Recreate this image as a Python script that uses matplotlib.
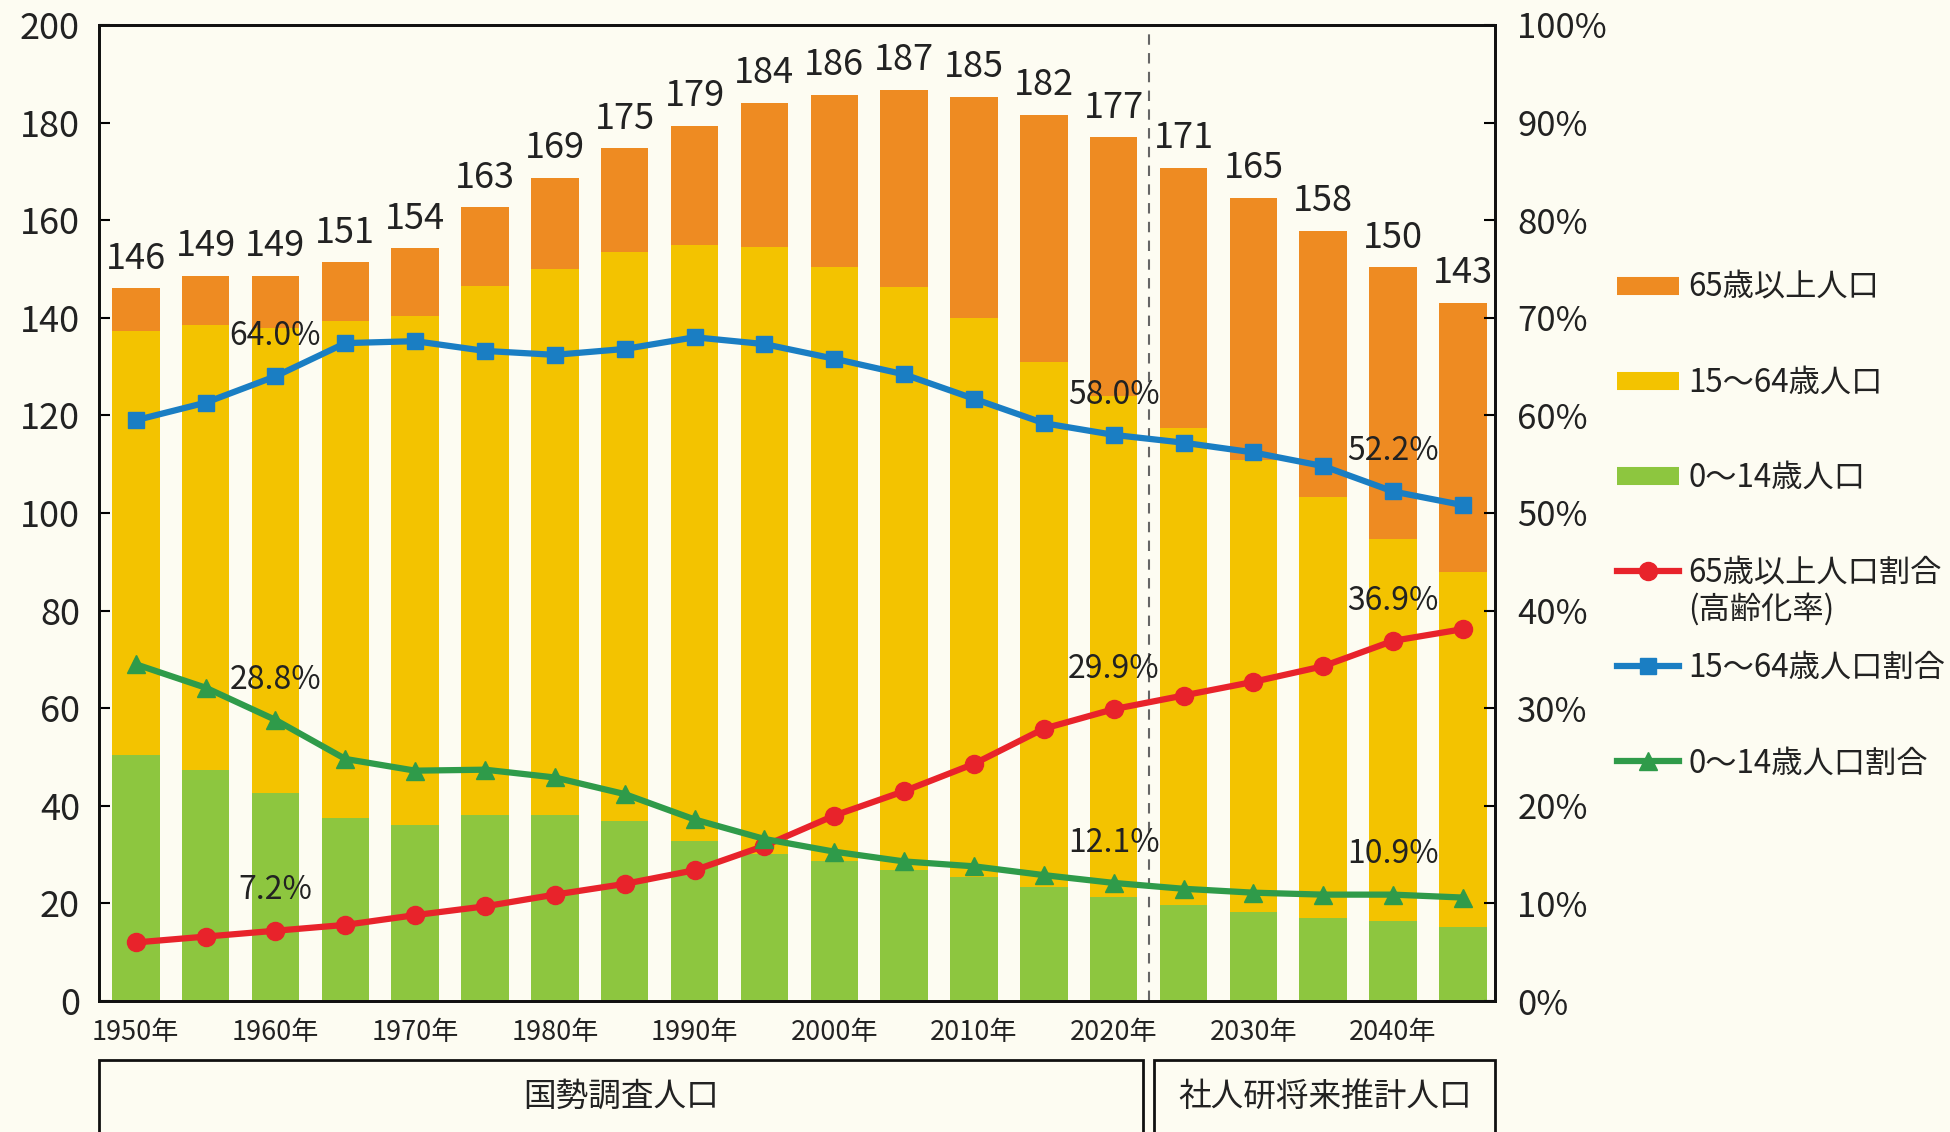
import numpy as np
import matplotlib.pyplot as plt
import matplotlib.transforms as mtransforms
from matplotlib.lines import Line2D
from matplotlib.patches import Rectangle

plt.rcParams['font.family'] = ['Noto Sans CJK JP', 'DejaVu Sans']

# 人口（万人）
years = np.arange(1950, 2050, 5)
pop_0_14 = np.array([50.4, 47.3, 42.7, 37.4, 36.0, 38.2, 38.2, 36.8, 32.7, 30.2,
                     28.7, 26.8, 25.5, 23.4, 21.4, 19.7, 18.3, 17.1, 16.4, 15.2])
pop_15_64 = np.array([86.9, 91.2, 95.1, 102.0, 104.4, 108.4, 111.7, 116.6, 122.2, 124.2,
                      121.6, 119.6, 114.5, 107.6, 102.6, 97.7, 92.6, 86.2, 78.2, 72.8])
pop_65 = np.array([8.8, 10.1, 10.8, 12.0, 13.9, 16.0, 18.8, 21.3, 24.4, 29.7,
                   35.4, 40.3, 45.3, 50.6, 53.0, 53.3, 53.7, 54.5, 55.7, 55.1])

# 割合（%）
rate_65 = [6.0, 6.6, 7.2, 7.8, 8.8, 9.7, 10.9, 12.0, 13.4, 15.9,
           19.0, 21.5, 24.3, 27.9, 29.9, 31.3, 32.7, 34.3, 36.9, 38.1]
rate_15_64 = [59.5, 61.3, 64.0, 67.4, 67.6, 66.6, 66.2, 66.8, 68.0, 67.3,
              65.8, 64.2, 61.7, 59.2, 58.0, 57.2, 56.2, 54.8, 52.2, 50.8]
rate_0_14 = [34.5, 32.1, 28.8, 24.8, 23.6, 23.7, 22.9, 21.2, 18.6, 16.6,
             15.3, 14.3, 13.8, 12.9, 12.1, 11.5, 11.1, 10.9, 10.9, 10.6]

label_years = [1960, 2020, 2040]
last_census = 2020
box_labels = ["国勢調査人口", "社人研将来推計人口"]

bar_labels = ["65歳以上人口", "15～64歳人口", "0～14歳人口"]
line_labels = ["65歳以上人口割合", "15～64歳人口割合", "0～14歳人口割合"]

bg = '#FDFCF2'
c_old = '#EE8B22'
c_work = '#F3C300'
c_young = '#8DC63F'
c_red = '#E8232B'
c_blue = '#1A7EC3'
c_green = '#2F9B4A'
txt_c = '#222222'

fig = plt.figure(figsize=(19.5, 11.32), dpi=100, facecolor=bg)
ax = fig.add_axes([0.051, 0.1157, 0.7157, 0.8623])
ax.set_facecolor(bg)

x = np.arange(len(years))
w = 0.68
ax.bar(x, pop_0_14, w, color=c_young, zorder=2)
ax.bar(x, pop_15_64, w, bottom=pop_0_14, color=c_work, zorder=2)
ax.bar(x, pop_65, w, bottom=pop_0_14 + pop_15_64, color=c_old, zorder=2)

totals = pop_0_14 + pop_15_64 + pop_65
for xi, t in zip(x, totals):
    ax.annotate(f"{t:.0f}", (xi, t), xytext=(0, 14), textcoords='offset points',
                ha='center', va='baseline', fontsize=26, color=txt_c)

split = np.where(years == last_census)[0][0] + 0.5
ax.axvline(split, color='#666666', ls=(0, (5, 4)), lw=1.5, zorder=1)

xmin, xmax = -0.52, 19.46
ax.set_xlim(xmin, xmax)
ax.set_ylim(0, 200)
ax.set_yticks(range(0, 201, 20))
dec = [i for i, y in enumerate(years) if y % 10 == 0]
ax.set_xticks(dec)
ax.set_xticklabels([f"{years[i]}年" for i in dec], fontsize=19.5, color=txt_c)
ax.tick_params(axis='x', length=0, pad=13)
ax.tick_params(axis='y', direction='in', length=8, width=1.5, labelsize=26,
               labelcolor=txt_c, pad=14)

ax2 = ax.twinx()
ax2.set_ylim(0, 100)
ax2.set_yticks(range(0, 101, 10))
ax2.set_yticklabels([f"{v}%" for v in range(0, 101, 10)])
ax2.tick_params(axis='y', direction='in', length=8, width=1.5, labelsize=25,
                labelcolor=txt_c, pad=16)

for a in (ax, ax2):
    for s in a.spines.values():
        s.set_linewidth(2)
        s.set_color('#111111')

ax2.plot(x, rate_65, color=c_red, lw=4.5, marker='o', ms=13, zorder=3)
ax2.plot(x, rate_15_64, color=c_blue, lw=4.5, marker='s', ms=12, zorder=3)
ax2.plot(x, rate_0_14, color=c_green, lw=4.5, marker='^', ms=13, zorder=4)

for yr in label_years:
    i = np.where(years == yr)[0][0]
    for series in (rate_65, rate_15_64, rate_0_14):
        ax2.annotate(f"{series[i]:.1f}%", (i, series[i]), xytext=(0, 29),
                     textcoords='offset points', ha='center', va='center',
                     fontsize=23, color=txt_c)

# 下部の区分ボックス
trans = mtransforms.blended_transform_factory(ax.transData, fig.transFigure)
edges = [(xmin, split - 0.08), (split + 0.08, xmax)]
for (x0, x1), lab in zip(edges, box_labels):
    r = Rectangle((x0, -0.05), x1 - x0, 0.064 + 0.05, transform=trans,
                  fill=False, lw=2, edgecolor='#111111', clip_on=False)
    fig.add_artist(r)
    fig.text((x0 + x1) / 2, 0.031, lab, transform=trans, ha='center', va='center',
             fontsize=23.5, color=txt_c)

# 凡例
handles = [Line2D([], [], color=c, lw=13, solid_capstyle='butt')
           for c in (c_old, c_work, c_young)]
handles += [Line2D([], [], color=c_red, lw=4.5, marker='o', ms=13),
            Line2D([], [], color=c_blue, lw=4.5, marker='s', ms=12),
            Line2D([], [], color=c_green, lw=4.5, marker='^', ms=13)]
leg = fig.legend(handles, bar_labels + line_labels, loc='upper left',
                 bbox_to_anchor=(0.829, 0.760), frameon=False, fontsize=22.5,
                 labelspacing=2.02, handlelength=2.0, handletextpad=0.3,
                 borderpad=0, borderaxespad=0)
for t in leg.get_texts():
    t.set_color(txt_c)

fig.canvas.draw()
bb = leg.get_texts()[3].get_window_extent()
W, H = fig.bbox.width, fig.bbox.height
fig.text(bb.x0 / W, (bb.y0 - 4) / H, "(高齢化率)", ha='left', va='top',
         fontsize=22.5, color=txt_c)

fig.savefig('out.png', dpi=100, facecolor=bg)
